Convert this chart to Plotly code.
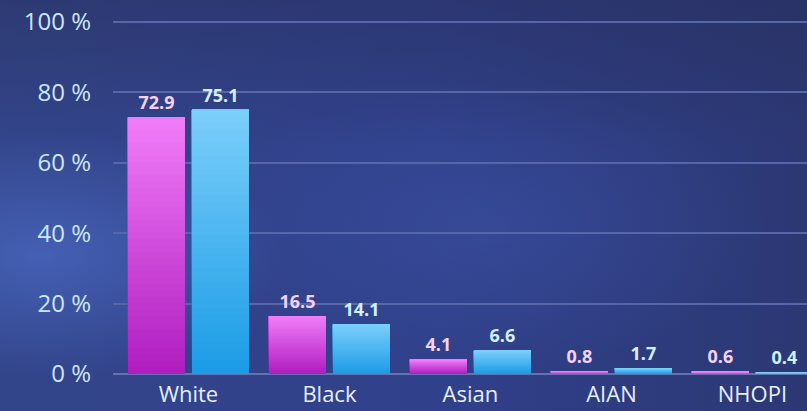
import urllib.parse
import plotly.graph_objects as go

# Race / ethnicity shares (%) for two groups
categories = ["White", "Black", "Asian", "AIAN", "NHOPI"]
group_a = [72.9, 16.5, 4.1, 0.8, 0.6]
group_b = [75.1, 14.1, 6.6, 1.7, 0.4]
y_ticks = [0, 20, 40, 60, 80, 100]
y_tick_text = ["0 %", "20 %", "40 %", "60 %", "80 %", "100 %"]

W, H = 807, 411
ML, MR, MT, MB = 113, 0, 0, 37

# vertical gradient stops (bottom -> top) for each series
PINK = ((176, 30, 192), (240, 124, 248))
BLUE = ((28, 156, 230), (122, 206, 250))
LAYERS = 40


def mix(c0, c1, t):
    return "rgb({},{},{})".format(*[round(a + (b - a) * t) for a, b in zip(c0, c1)])


fig = go.Figure()

for name, vals, cols, txt_col in [
    ("A", group_a, PINK, "#f4d2f8"),
    ("B", group_b, BLUE, "#d2f0ff"),
]:
    # each layer covers the bar from a fraction of its height up to its top,
    # painting a bottom-to-top colour ramp
    for k in range(LAYERS):
        frac = k / LAYERS
        last = k == LAYERS - 1
        fig.add_trace(go.Bar(
            x=categories,
            y=[v * (1 - frac) for v in vals],
            base=[v * frac for v in vals],
            offsetgroup=name,
            marker=dict(color=mix(cols[0], cols[1], k / (LAYERS - 1)), line=dict(width=0)),
            text=[f"{v:.1f}" for v in vals] if last else None,
            textposition="outside" if last else "none",
            textfont=dict(family="Open Sans", size=18, color=txt_col, weight="bold"),
            cliponaxis=False,
            hoverinfo="skip",
            showlegend=False,
        ))

# background: navy with soft glows
bg_svg = (
    "<svg xmlns='http://www.w3.org/2000/svg' width='807' height='411'>"
    "<defs>"
    "<linearGradient id='g' x1='0' y1='0' x2='1' y2='0'>"
    "<stop offset='0' stop-color='#33458a'/>"
    "<stop offset='0.55' stop-color='#30408a'/>"
    "<stop offset='1' stop-color='#2c3874'/>"
    "</linearGradient>"
    "<linearGradient id='t' x1='0' y1='0' x2='0' y2='1'>"
    "<stop offset='0' stop-color='#262c55' stop-opacity='0.45'/>"
    "<stop offset='0.35' stop-color='#262c55' stop-opacity='0'/>"
    "</linearGradient>"
    "<radialGradient id='r1' cx='0.05' cy='0.62' r='0.3'>"
    "<stop offset='0' stop-color='#4a69c2' stop-opacity='0.75'/>"
    "<stop offset='1' stop-color='#4a69c2' stop-opacity='0'/>"
    "</radialGradient>"
    "<radialGradient id='r2' cx='0.6' cy='0.55' r='0.35'>"
    "<stop offset='0' stop-color='#3c52a6' stop-opacity='0.5'/>"
    "<stop offset='1' stop-color='#3c52a6' stop-opacity='0'/>"
    "</radialGradient>"
    "</defs>"
    "<rect width='807' height='411' fill='url(#g)'/>"
    "<rect width='807' height='411' fill='url(#r2)'/>"
    "<rect width='807' height='411' fill='url(#r1)'/>"
    "<rect width='807' height='411' fill='url(#t)'/>"
    "</svg>"
)
bg_uri = "data:image/svg+xml;charset=utf-8," + urllib.parse.quote(bg_svg)

pw, ph = W - ML - MR, H - MT - MB
fig.add_layout_image(
    source=bg_uri, xref="paper", yref="paper",
    x=-ML / pw, y=1 + MT / ph, sizex=W / pw, sizey=H / ph,
    xanchor="left", yanchor="top", sizing="stretch", layer="below",
)

fig.update_layout(
    width=W, height=H,
    margin=dict(l=ML, r=MR, t=MT, b=MB, pad=0, autoexpand=False),
    paper_bgcolor="#2f3e80",
    plot_bgcolor="rgba(0,0,0,0)",
    barmode="group",
    bargap=0.092,
    bargroupgap=0.11,
    font=dict(family="Open Sans"),
    xaxis=dict(
        range=[-0.535, 4.387], automargin=False,
        showgrid=False, zeroline=False, showline=False,
        tickfont=dict(size=22, color="#e6eefa"),
        ticks="", ticklabelstandoff=5,
    ),
    yaxis=dict(
        range=[0, 106.25], automargin=False,
        tickmode="array", tickvals=y_ticks, ticktext=y_tick_text,
        showgrid=True, gridcolor="#5766a8", gridwidth=2,
        zeroline=True, zerolinecolor="#6473b0", zerolinewidth=2,
        showline=False,
        tickfont=dict(size=24, color="#cde6f6"),
        ticks="", ticklabelstandoff=21,
    ),
)

fig.write_html("out.html")
